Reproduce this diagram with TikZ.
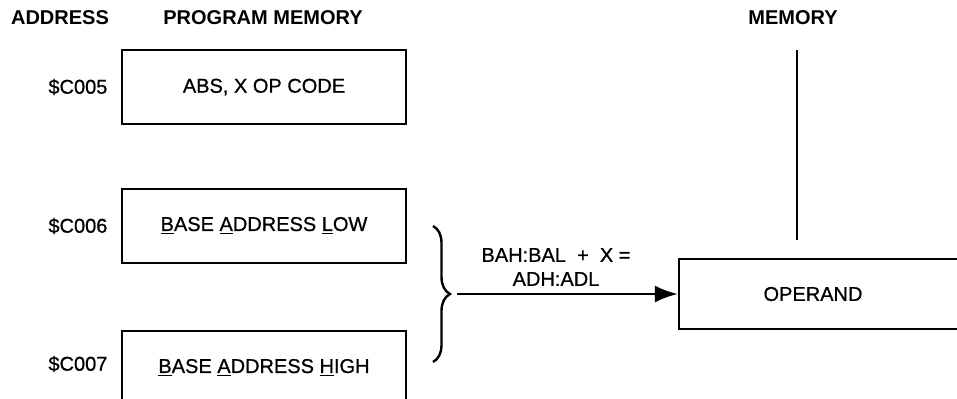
\documentclass[tikz,border=0pt]{standalone}
\usepackage{fontspec}
\setmainfont{Liberation Sans}[UprightFeatures={FakeBold=0.8}]
\usetikzlibrary{positioning,arrows.meta,decorations.pathreplacing}

\begin{document}
\begin{tikzpicture}[x=0.5pt, y=0.5pt, >={Latex[length=11.5pt,width=8.5pt]},
  membox/.style={draw, line width=1.2pt, minimum width=142pt, minimum height=37pt, inner sep=0pt},
  hdr/.style={font=\bfseries}]
\clip (0,0) rectangle (957,398);

\node[hdr] (hdaddr) at (60,380) {ADDRESS};
\node[hdr] (hdprog) at (263,380) {PROGRAM MEMORY};
\node[hdr] (hdmem) at (793,380) {MEMORY};

\node[membox] (opc) at (264,311) {ABS, X OP CODE\hspace{10pt}};
\node[membox] (bal) at (264,172) {\underline{B}ASE \underline{A}DDRESS \underline{L}OW};
\node[membox] (bah) at (264,30) {\raisebox{2pt}{\underline{B}ASE \underline{A}DDRESS \underline{H}IGH}};

\node[left=6.5pt of opc, inner sep=0pt] (a5) {\$C005};
\node[left=6.5pt of bal, inner sep=0pt] (a6) {\$C006};
\node[left=6.5pt of bah, inner sep=0pt, yshift=2pt] (a7) {\$C007};

\coordinate (brtop) at (433,172);
\coordinate (brbot) at (433,36);
\draw[decorate, decoration={brace, amplitude=8.5pt}, line width=1.2pt] (brtop) -- (brbot);

\node[membox, minimum width=160pt, minimum height=35pt] (opr) at (839,104) {};
\node (oprtxt) at (813,104) {OPERAND};

\coordinate (brtip) at (457,104);
\draw[->, line width=1.2pt] (brtip) -- (opr.west);
\node[align=center] (sum) at (556,131) {BAH:BAL~~+~~X~=\\ADH:ADL};

\coordinate (memtop) at (797,348);
\coordinate (membot) at (797,158);
\draw[line width=1.2pt] (memtop) -- (membot);
\end{tikzpicture}
\end{document}
